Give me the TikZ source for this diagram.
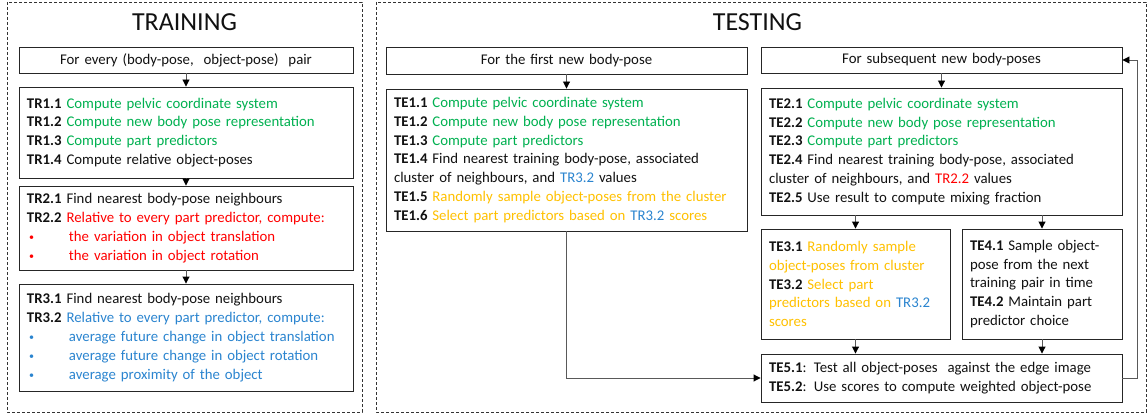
\documentclass[tikz,border=0pt]{standalone}
\usepackage{fontspec}
\setmainfont{Carlito}
\usetikzlibrary{arrows.meta}
\definecolor{tgreen}{HTML}{00B050}
\definecolor{tred}{HTML}{FF0000}
\definecolor{tblue}{HTML}{2A84CF}
\definecolor{tyel}{HTML}{FFC000}
\definecolor{ink}{HTML}{111111}
\newcommand\tk[1]{\textbf{#1}}
\newcommand\bul[1]{\makebox[42pt][l]{\hspace{2pt}\raisebox{1pt}{\fontsize{10}{10}\selectfont\textbullet}}#1}
\begin{document}
\begin{tikzpicture}[x=1pt,y=-1pt,
  box/.style={draw=black!85, line width=0.9pt, inner xsep=8pt, inner ysep=0pt,
    align=left, font=\fontsize{14.8}{18.9}\selectfont, text=ink},
  headbox/.style={box, align=center},
  conn/.style={draw=black!65, line width=0.9pt, -{Triangle[length=7pt,width=7pt,color=black]}},
  frame/.style={draw=black!80, line width=0.8pt, dash pattern=on 3pt off 2pt},
  title/.style={font=\fontsize{26}{30}\selectfont, anchor=base, text=ink}
]
\useasboundingbox (0,0) rectangle (1148,414);
\draw[frame] (7,2) rectangle (362,412);
\draw[frame] (376,2) rectangle (1146,412);
\node[title] (ttr) at (184.5,31) {TRAINING};
\node[title] (tte) at (757.5,31) {TESTING};

% training
\node[headbox, minimum width=334pt, minimum height=26pt, text width=318pt] (s0) at (186,60)
  {For every (body-pose,~ object-pose)~ pair};
\node[box, minimum width=334pt, minimum height=91pt, text width=318pt] (tr1) at (186,132.5)
  {\tk{TR1.1} \textcolor{tgreen}{Compute pelvic coordinate system}\\
   \tk{TR1.2} \textcolor{tgreen}{Compute new body pose representation}\\
   \tk{TR1.3} \textcolor{tgreen}{Compute part predictors}\\
   \tk{TR1.4} Compute relative object-poses};
\node[box, minimum width=334pt, minimum height=84pt, text width=318pt] (tr2) at (186,228)
  {\tk{TR2.1} Find nearest body-pose neighbours\\
   \tk{TR2.2} \textcolor{tred}{Relative to every part predictor, compute:}\\
   \textcolor{tred}{\bul{the variation in object translation}}\\
   \textcolor{tred}{\bul{the variation in object rotation}}};
\node[box, minimum width=334pt, minimum height=107pt, text width=318pt] (tr3) at (186,337.5)
  {\tk{TR3.1} Find nearest body-pose neighbours\\
   \tk{TR3.2} \textcolor{tblue}{Relative to every part predictor, compute:}\\
   \textcolor{tblue}{\bul{average future change in object translation}}\\
   \textcolor{tblue}{\bul{average future change in object rotation}}\\
   \textcolor{tblue}{\bul{average proximity of the object}}};

% testing, first pose
\node[headbox, minimum width=361pt, minimum height=27pt, text width=345pt] (s1) at (566.5,60.5)
  {For the first new body-pose};
\node[box, minimum width=361pt, minimum height=142pt, text width=345pt] (te1) at (566.5,160)
  {\tk{TE1.1} \textcolor{tgreen}{Compute pelvic coordinate system}\\
   \tk{TE1.2} \textcolor{tgreen}{Compute new body pose representation}\\
   \tk{TE1.3} \textcolor{tgreen}{Compute part predictors}\\
   \tk{TE1.4} Find nearest training body-pose, associated\\
   cluster of neighbours, and \textcolor{tblue}{TR3.2} values\\
   \tk{TE1.5} \textcolor{tyel}{Randomly sample object-poses from the cluster}\\
   \tk{TE1.6} \textcolor{tyel}{Select part predictors based on} \textcolor{tblue}{TR3.2} \textcolor{tyel}{scores}};

% testing, subsequent poses
\node[headbox, minimum width=361pt, minimum height=26pt, text width=345pt] (s2) at (941.5,60)
  {For subsequent new body-poses};
\node[box, minimum width=361pt, minimum height=127pt, text width=345pt] (te2) at (941.5,151.5)
  {\tk{TE2.1} \textcolor{tgreen}{Compute pelvic coordinate system}\\
   \tk{TE2.2} \textcolor{tgreen}{Compute new body pose representation}\\
   \tk{TE2.3} \textcolor{tgreen}{Compute part predictors}\\
   \tk{TE2.4} Find nearest training body-pose, associated\\
   cluster of neighbours, and \textcolor{tred}{TR2.2} values\\
   \tk{TE2.5} Use result to compute mixing fraction};
\node[box, minimum width=189pt, minimum height=110pt, text width=173pt] (te3) at (855.5,284)
  {\tk{TE3.1} \textcolor{tyel}{Randomly sample}\\
   \textcolor{tyel}{object-poses from cluster}\\
   \tk{TE3.2} \textcolor{tyel}{Select part}\\
   \textcolor{tyel}{predictors based on} \textcolor{tblue}{TR3.2}\\
   \textcolor{tyel}{scores}};
\node[box, minimum width=160pt, minimum height=110pt, text width=144pt] (te4) at (1042,284)
  {\tk{TE4.1} Sample object-\\
   pose from the next\\
   training pair in time\\
   \tk{TE4.2} Maintain part\\
   predictor choice};
\node[box, minimum width=361pt, minimum height=48pt, text width=345pt] (te5) at (941.5,378)
  {\tk{TE5.1}: Test all object-poses~ against the edge image\\
   \tk{TE5.2}: Use scores to compute weighted object-pose};

% connectors
\draw[conn] (s0.south) -- (tr1.north);
\draw[conn] (tr1.south) -- (tr2.north);
\draw[conn] (tr2.south) -- (tr3.north);
\draw[conn] (s1.south) -- (te1.north);
\draw[conn] (s2.south) -- (te2.north);
\draw[conn] (te2.south -| te3.north) -- (te3.north);
\draw[conn] (te2.south -| te4.north) -- (te4.north);
\draw[conn] (te3.south) -- (te3.south |- te5.north);
\draw[conn] (te4.south) -- (te4.south |- te5.north);
\draw[conn] (te1.south) |- (te5.west);
\draw[conn] (te5.east) -- ++(15,0) |- (s2.east);
\end{tikzpicture}
\end{document}
